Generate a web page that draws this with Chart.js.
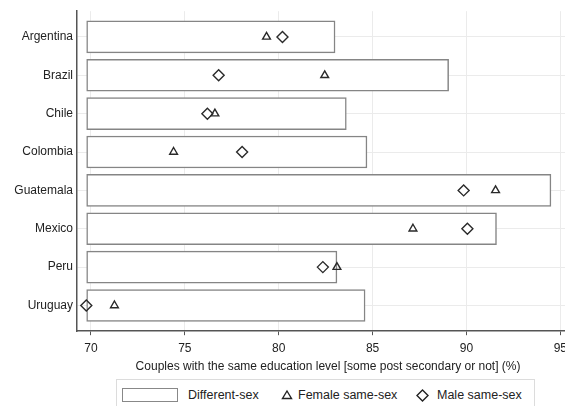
<!DOCTYPE html>
<html>
<head>
<meta charset="utf-8">
<script src="https://cdn.jsdelivr.net/npm/chart.js@4/dist/chart.umd.min.js"></script>
<style>
  html, body { margin: 0; padding: 0; background: #fff; overflow: hidden; width: 565px; height: 406px; }
  #wrap { position: absolute; left: 0; top: 0; width: 586px; height: 375px; }
  #legend { position: absolute; left: 116px; top: 379px; width: 417px; height: 34px; border: 1px solid #dcdcdc;
            font-family: "Liberation Sans", Arial, sans-serif; font-size: 12.5px; color: #222; }
  #legend .sw { position: absolute; left: 5px; top: 8px; width: 56px; height: 14px; border: 1px solid #888; background: #fff; box-sizing: border-box; }
  #legend span.t { position: absolute; top: 8px; line-height: 15px; white-space: nowrap; }
  #legend svg { position: absolute; top: 9px; }
</style>
</head>
<body>
<div id="wrap"><canvas id="chart"></canvas></div>
<div id="legend">
  <div class="sw"></div>
  <span class="t" style="left:71px">Different-sex</span>
  <svg style="left:164px" width="12" height="12" viewBox="0 0 12 12"><polygon points="6,2 10.5,9.5 1.5,9.5" fill="none" stroke="#222" stroke-width="1.4"/></svg>
  <span class="t" style="left:181px">Female same-sex</span>
  <svg style="left:299px" width="13" height="13" viewBox="0 0 13 13"><polygon points="6.5,1 12,6.5 6.5,12 1,6.5" fill="none" stroke="#222" stroke-width="1.4"/></svg>
  <span class="t" style="left:320px">Male same-sex</span>
</div>
<script>
// datos
const countries = ["Argentina", "Brazil", "Chile", "Colombia", "Guatemala", "Mexico", "Peru", "Uruguay"];
const differentSex = [83.0, 89.05, 83.6, 84.7, 94.5, 91.6, 83.1, 84.6];
const femaleSameSex = [79.35, 82.45, 76.6, 74.4, 91.55, 87.15, 83.1, 71.25];
const maleSameSex = [80.2, 76.8, 76.2, 78.05, 89.85, 90.05, 82.35, 69.75];
const barBase = 69.77;
const xTicks = [70, 75, 80, 85, 90, 95];
const xTitle = "Couples with the same education level [some post secondary or not] (%)";

const font = { family: "'Liberation Sans', Arial, sans-serif", size: 12 };
Chart.defaults.font = font;
Chart.defaults.color = "#222";

const ctx = document.getElementById("chart").getContext("2d");
new Chart(ctx, {
  type: "bar",
  data: {
    datasets: [
      {
        type: "bar",
        label: "Different-sex",
        indexAxis: "y",
        data: countries.map((c, i) => ({ y: i + 1, x: [barBase, differentSex[i]] })),
        backgroundColor: "#fff",
        borderColor: "#858585",
        borderWidth: 1.5,
        borderSkipped: false,
        barThickness: 32,
        order: 2
      },
      {
        type: "scatter",
        label: "Female same-sex",
        data: countries.map((c, i) => ({ x: femaleSameSex[i], y: i + 1 })),
        pointStyle: "triangle",
        pointRadius: 4.5,
        borderColor: "#2a2a2a",
        backgroundColor: "rgba(0,0,0,0)",
        borderWidth: 1.4,
        order: 1
      },
      {
        type: "scatter",
        label: "Male same-sex",
        data: countries.map((c, i) => ({ x: maleSameSex[i], y: i + 1 })),
        pointStyle: "rectRot",
        pointRadius: 5.5,
        borderColor: "#2a2a2a",
        backgroundColor: "rgba(0,0,0,0)",
        borderWidth: 1.4,
        order: 1
      }
    ]
  },
  options: {
    indexAxis: "y",
    animation: false,
    responsive: true,
    maintainAspectRatio: false,
    events: [],
    layout: { padding: { top: 4, left: 0, right: 0, bottom: 0 } },
    plugins: { legend: { display: false }, tooltip: { enabled: false } },
    scales: {
      x: {
        type: "linear",
        min: 69.255,
        max: 96,
        offset: false,
        afterBuildTicks: s => { s.ticks = xTicks.map(v => ({ value: v })); },
        ticks: { padding: 6, color: "#222", font: { size: 12 } },
        grid: { color: "#ebebeb", lineWidth: 1, tickLength: 4, tickColor: "#555", offset: false },
        border: { display: true, color: "#555", width: 1.5 },
        title: { display: true, text: xTitle, color: "#222", font: { size: 12 }, padding: { top: -2, bottom: 1 } }
      },
      y: {
        type: "linear",
        reverse: true,
        offset: false,
        min: 0.33,
        max: 8.67,
        afterBuildTicks: s => { s.ticks = countries.map((c, i) => ({ value: i + 1 })); },
        afterFit: s => { s.width = 77; },
        ticks: { padding: 4, color: "#222", font: { size: 12 }, callback: (v, i) => countries[i] },
        grid: { color: "#ebebeb", lineWidth: 1, drawTicks: false, offset: false },
        border: { display: true, color: "#555", width: 1.5 }
      }
    }
  }
});
</script>
</body>
</html>
